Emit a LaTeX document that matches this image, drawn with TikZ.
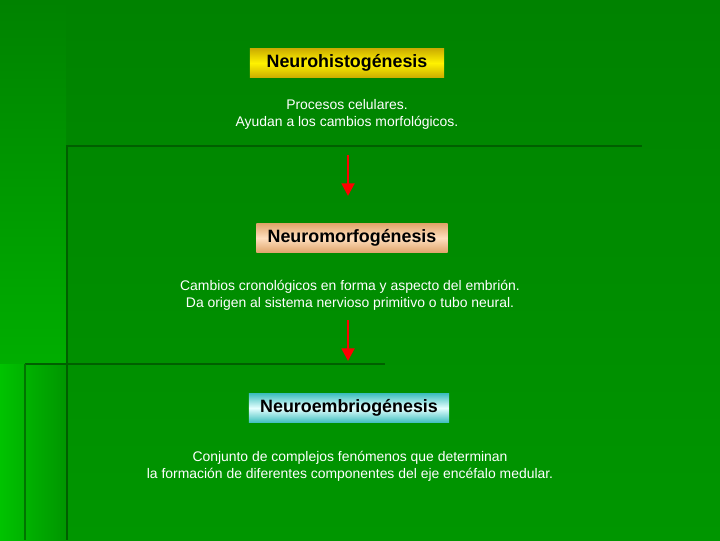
\documentclass[tikz,border=0pt]{standalone}
\usepackage{fontspec}
\setmainfont{Liberation Sans}
\usetikzlibrary{arrows.meta}
\definecolor{bgdark}{RGB}{0,130,0}
\definecolor{bgmid}{RGB}{0,150,0}
\definecolor{bglight}{RGB}{0,195,0}
\definecolor{rule}{RGB}{0,95,0}

\begin{document}
\begin{tikzpicture}
[
	x=0.025cm,y=-0.025cm,
	title/.style={rectangle,draw=none,minimum height=0.72cm,inner xsep=8pt,font=\fontsize{12.7}{14}\selectfont\bfseries},
	desc/.style={align=center,text=white,font=\fontsize{9.9}{12}\selectfont},
	step arrow/.style={draw=red,line width=2pt,-{Triangle[length=9pt,width=9pt]}}
]

\shade[top color=bgdark,bottom color=bgmid] (0,0) rectangle (720,540);
\shade[top color=bgdark,bottom color=bglight] (0,0) rectangle (66,540);
\shade[left color=bglight,right color=bgmid] (0,364) rectangle (66,540);
\useasboundingbox (0,0) rectangle (720,540);

\draw[rule,line width=1.5pt] (66,146) -- (642,146);
\draw[rule,line width=1.5pt] (67,146) -- (67,540);
\draw[rule,line width=1.5pt] (25,364) -- (385,364);
\draw[rule!60!bgmid,line width=1.2pt] (25,364) -- (25,540);

\node[title,top color=yellow!70!orange!80!black,bottom color=yellow!70!orange!80!black,middle color=yellow!90!orange,minimum width=4.85cm] (histo) at (347,63) {Neurohistogénesis};
\node[desc] (histotxt) at (347,114) {Procesos celulares.\\Ayudan a los cambios morfológicos.};

\node[title,top color=brown!70!orange!70,bottom color=brown!70!orange!70,middle color=orange!25,minimum width=4.6cm] (morfo) at (352,238) {Neuromorfogénesis};
\node[desc] (morfotxt) at (350,295) {Cambios cronológicos en forma y aspecto del embrión.\\Da origen al sistema nervioso primitivo o tubo neural.};

\node[title,top color=cyan!50!gray,bottom color=cyan!50!gray,middle color=cyan!10,minimum width=4.85cm] (embrio) at (349,408) {Neuroembriogénesis};
\node[desc] (embriotxt) at (350,466) {Conjunto de complejos fenómenos que determinan\\la formación de diferentes componentes del eje encéfalo medular.};

\coordinate (a1) at (348,155);
\coordinate (a2) at (348,196);
\coordinate (b1) at (348,320);
\coordinate (b2) at (348,361);
\draw[step arrow] (a1) -- (a2);
\draw[step arrow] (b1) -- (b2);

\end{tikzpicture}
\end{document}
